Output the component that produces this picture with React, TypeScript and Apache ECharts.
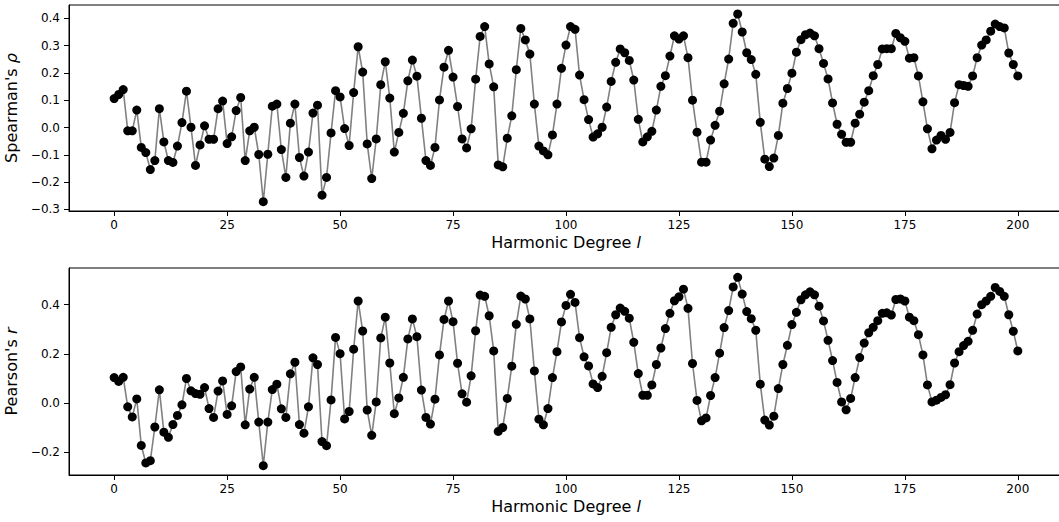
import React, { useEffect, useRef } from "react";
import * as echarts from "echarts";

// Harmonic degree l = 0..200
const degrees: number[] = Array.from({ length: 201 }, (_, i) => i);

const spearman: number[] = [
  0.106, 0.121, 0.139, -0.012, -0.012, 0.064, -0.073, -0.092, -0.154, -0.121,
  0.069, -0.053, -0.121, -0.128, -0.068, 0.018, 0.133, 0.001, -0.139, -0.064,
  0.006, -0.043, -0.043, 0.069, 0.097, -0.059, -0.034, 0.062, 0.110, -0.121,
  -0.012, 0.001, -0.099, -0.272, -0.098, 0.078, 0.086, -0.081, -0.183, 0.016,
  0.086, -0.110, -0.178, -0.090, 0.053, 0.082, -0.248, -0.183, -0.020, 0.135,
  0.112, -0.004, -0.066, 0.128, 0.296, 0.203, -0.060, -0.187, -0.042, 0.157,
  0.241, 0.108, -0.090, -0.018, 0.052, 0.171, 0.247, 0.188, 0.034, -0.121,
  -0.139, -0.073, 0.101, 0.221, 0.283, 0.185, 0.077, -0.042, -0.075, -0.005,
  0.177, 0.334, 0.370, 0.233, 0.149, -0.137, -0.144, -0.039, 0.043, 0.212,
  0.363, 0.321, 0.269, 0.086, -0.068, -0.086, -0.100, -0.027, 0.086, 0.217,
  0.302, 0.370, 0.360, 0.192, 0.102, 0.029, -0.035, -0.023, 0.001, 0.075,
  0.169, 0.239, 0.288, 0.274, 0.246, 0.174, 0.030, -0.053, -0.034, -0.014,
  0.064, 0.151, 0.190, 0.262, 0.336, 0.324, 0.336, 0.256, 0.100, -0.017,
  -0.127, -0.127, -0.046, 0.008, 0.060, 0.160, 0.251, 0.382, 0.416, 0.350,
  0.274, 0.249, 0.195, 0.019, -0.116, -0.143, -0.112, -0.029, 0.089, 0.143,
  0.199, 0.276, 0.322, 0.340, 0.346, 0.336, 0.289, 0.235, 0.178, 0.090,
  0.012, -0.025, -0.054, -0.054, 0.016, 0.049, 0.093, 0.135, 0.190, 0.231,
  0.288, 0.289, 0.289, 0.345, 0.329, 0.316, 0.254, 0.256, 0.189, 0.094,
  -0.005, -0.078, -0.046, -0.029, -0.043, -0.018, 0.091, 0.157, 0.154, 0.151,
  0.189, 0.256, 0.302, 0.321, 0.353, 0.379, 0.370, 0.365, 0.273, 0.231,
  0.189,
];

const pearson: number[] = [
  0.104, 0.088, 0.105, -0.015, -0.056, 0.017, -0.172, -0.243, -0.234, -0.097,
  0.054, -0.118, -0.139, -0.087, -0.050, -0.007, 0.100, 0.050, 0.039, 0.036,
  0.063, -0.022, -0.058, 0.049, 0.090, -0.046, -0.011, 0.128, 0.147, -0.088,
  0.057, 0.105, -0.077, -0.254, -0.077, 0.055, 0.077, -0.023, -0.058, 0.119,
  0.166, -0.087, -0.122, -0.015, 0.184, 0.157, -0.156, -0.173, 0.013, 0.267,
  0.201, -0.064, -0.034, 0.219, 0.415, 0.293, -0.028, -0.131, 0.005, 0.265,
  0.349, 0.163, -0.043, 0.021, 0.105, 0.261, 0.342, 0.270, 0.053, -0.058,
  -0.085, 0.016, 0.196, 0.340, 0.415, 0.331, 0.162, 0.038, 0.004, 0.111,
  0.294, 0.439, 0.434, 0.355, 0.212, -0.115, -0.099, 0.019, 0.150, 0.320,
  0.435, 0.423, 0.342, 0.131, -0.065, -0.088, -0.022, 0.104, 0.209, 0.330,
  0.397, 0.442, 0.409, 0.266, 0.188, 0.151, 0.078, 0.063, 0.109, 0.205,
  0.308, 0.359, 0.386, 0.373, 0.345, 0.247, 0.120, 0.032, 0.032, 0.074,
  0.157, 0.224, 0.303, 0.365, 0.416, 0.432, 0.463, 0.385, 0.161, 0.011,
  -0.072, -0.060, 0.031, 0.104, 0.203, 0.307, 0.376, 0.472, 0.511, 0.443,
  0.372, 0.343, 0.296, 0.077, -0.069, -0.089, -0.053, 0.059, 0.157, 0.235,
  0.319, 0.369, 0.420, 0.440, 0.452, 0.440, 0.394, 0.334, 0.255, 0.173,
  0.084, 0.005, -0.027, 0.019, 0.104, 0.185, 0.244, 0.286, 0.308, 0.335,
  0.365, 0.367, 0.358, 0.421, 0.423, 0.415, 0.349, 0.335, 0.278, 0.196,
  0.074, 0.005, 0.012, 0.023, 0.034, 0.075, 0.163, 0.209, 0.234, 0.251,
  0.296, 0.362, 0.400, 0.415, 0.434, 0.470, 0.454, 0.434, 0.359, 0.292,
  0.212,
];

const xTicks: number[] = [0, 25, 50, 75, 100, 125, 150, 175, 200];
const topYTicks: number[] = [-0.3, -0.2, -0.1, 0.0, 0.1, 0.2, 0.3, 0.4];
const bottomYTicks: number[] = [-0.2, 0.0, 0.2, 0.4];

const xLimits: [number, number] = [-10, 210];
const topYLimits: [number, number] = [-0.306, 0.449];
const bottomYLimits: [number, number] = [-0.292, 0.549];

const xLabel = "Harmonic Degree {i|l}";
const topYLabel = "Spearman's {i|ρ}";
const bottomYLabel = "Pearson's {i|r}";

const FONT = "DejaVu Sans";

export default function App() {
  const ref = useRef<HTMLDivElement>(null);

  useEffect(() => {
    if (!ref.current) return;
    const chart = echarts.init(ref.current, undefined, { renderer: "svg" });

    const fmtY = (v: number) => v.toFixed(1).replace("-", "\u2212");

    const nameStyle = {
      fontSize: 16,
      color: "#000",
      fontFamily: FONT,
      rich: { i: { fontSize: 16, fontStyle: "italic", fontFamily: FONT, color: "#000" } },
    };

    const makeX = (gridIndex: number) => ({
      type: "value",
      gridIndex,
      min: xLimits[0],
      max: xLimits[1],
      splitLine: { show: false },
      axisLine: { show: true, onZero: false, lineStyle: { color: "#000", width: 1 } },
      axisTick: {
        show: true,
        length: 5,
        customValues: xTicks,
        lineStyle: { color: "#000", width: 1 },
      },
      axisLabel: {
        customValues: xTicks,
        margin: 8,
        fontSize: 12,
        color: "#000",
        fontFamily: FONT,
        formatter: (v: number) => String(v),
      },
      name: xLabel,
      nameLocation: "middle",
      nameGap: 23,
      nameTextStyle: nameStyle,
    });

    const makeY = (gridIndex: number, lim: [number, number], ticks: number[], name: string) => ({
      type: "value",
      gridIndex,
      min: lim[0],
      max: lim[1],
      splitLine: { show: false },
      axisLine: { show: true, onZero: false, lineStyle: { color: "#000", width: 1 } },
      axisTick: {
        show: true,
        length: 5,
        customValues: ticks,
        lineStyle: { color: "#000", width: 1 },
      },
      axisLabel: {
        customValues: ticks,
        margin: 9,
        fontSize: 12,
        color: "#000",
        fontFamily: FONT,
        formatter: fmtY,
      },
      name,
      nameLocation: "middle",
      nameGap: 41,
      nameTextStyle: nameStyle,
    });

    const makeSeries = (idx: number, values: number[]) => ({
      type: "line",
      xAxisIndex: idx,
      yAxisIndex: idx,
      data: degrees.map((l, i) => [l, values[i]]),
      symbol: "circle",
      symbolSize: 9,
      showSymbol: true,
      lineStyle: { color: "#808080", width: 1.6 },
      itemStyle: { color: "#000", borderWidth: 0 },
      emphasis: { disabled: true },
      z: 2,
    });

    const gridBase = {
      left: 69,
      right: -4,
      show: true,
      borderColor: "#000",
      borderWidth: 1,
      backgroundColor: "transparent",
      containLabel: false,
      outerBoundsMode: "none",
    };

    chart.setOption({
      animation: false,
      backgroundColor: "#fff",
      grid: [
        { ...gridBase, top: 5, height: 206 },
        { ...gridBase, top: 268, height: 207 },
      ],
      xAxis: [makeX(0), makeX(1)],
      yAxis: [
        makeY(0, topYLimits, topYTicks, topYLabel),
        makeY(1, bottomYLimits, bottomYTicks, bottomYLabel),
      ],
      series: [makeSeries(0, spearman), makeSeries(1, pearson)],
    });

    return () => chart.dispose();
  }, []);

  return (
    <div
      ref={ref}
      style={{ position: "fixed", left: 0, top: 0, width: 1059, height: 522, background: "#fff" }}
    />
  );
}
